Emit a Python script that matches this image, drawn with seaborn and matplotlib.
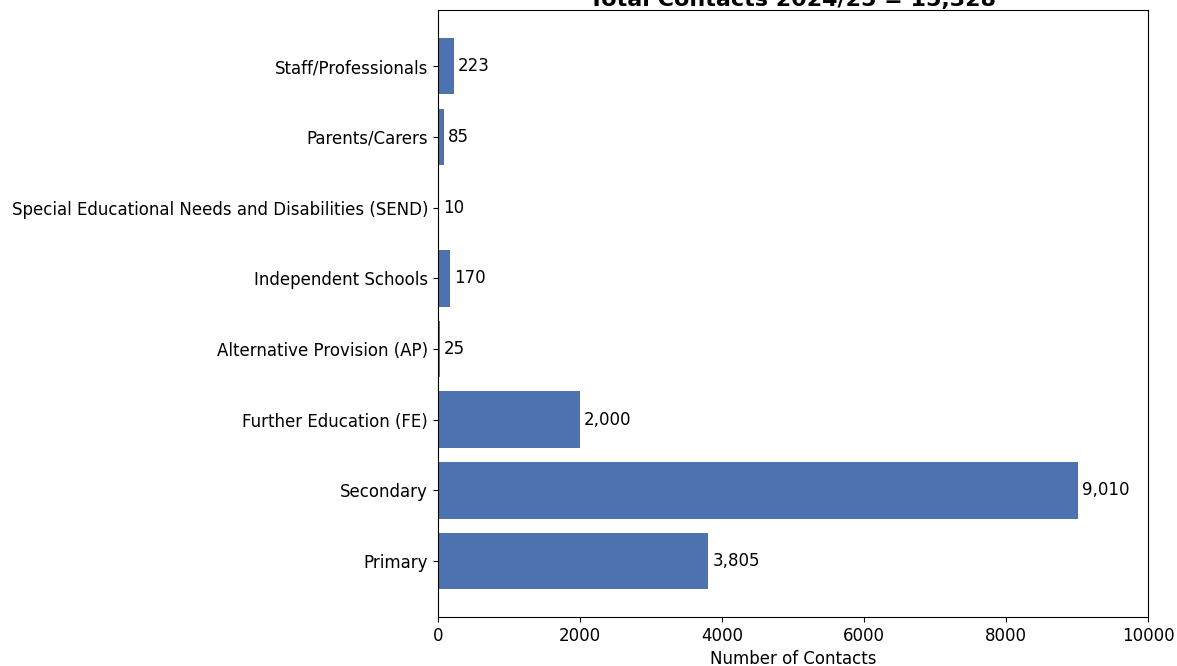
import matplotlib
matplotlib.use("Agg")
import matplotlib.pyplot as plt
import seaborn as sns
import pandas as pd

categories = ["Staff/Professionals", "Parents/Carers",
              "Special Educational Needs and Disabilities (SEND)",
              "Independent Schools", "Alternative Provision (AP)",
              "Further Education (FE)", "Secondary", "Primary"]
contacts = [223, 85, 10, 170, 25, 2000, 9010, 3805]

df = pd.DataFrame({"Category": categories, "Contacts": contacts})
total = sum(contacts)

plt.rcParams['font.family'] = ['DejaVu Sans']

fig = plt.figure(figsize=(11.77, 6.66), dpi=100)
ax = fig.add_axes([0.372, 0.0736, 0.6034, 0.911])
sns.barplot(data=df, x="Contacts", y="Category", color="#4c72b0",
            saturation=1, width=0.8, linewidth=0, ax=ax)
ax.bar_label(ax.containers[0], labels=[f"{v:,}" for v in contacts],
             padding=3, fontsize=12)
ax.set_xlim(0, 10000)
# matplotlib default 5% margins around the bars
ax.set_ylim(7.4 + 0.39, -0.4 - 0.39)
ax.set_xlabel("Number of Contacts", fontsize=12)
ax.set_ylabel("")
ax.tick_params(labelsize=12)
ax.set_title(f"Total Contacts 2024/25 = {total:,}", fontsize=16,
             fontweight="bold", pad=1)

fig.savefig("out.png", dpi=100)
